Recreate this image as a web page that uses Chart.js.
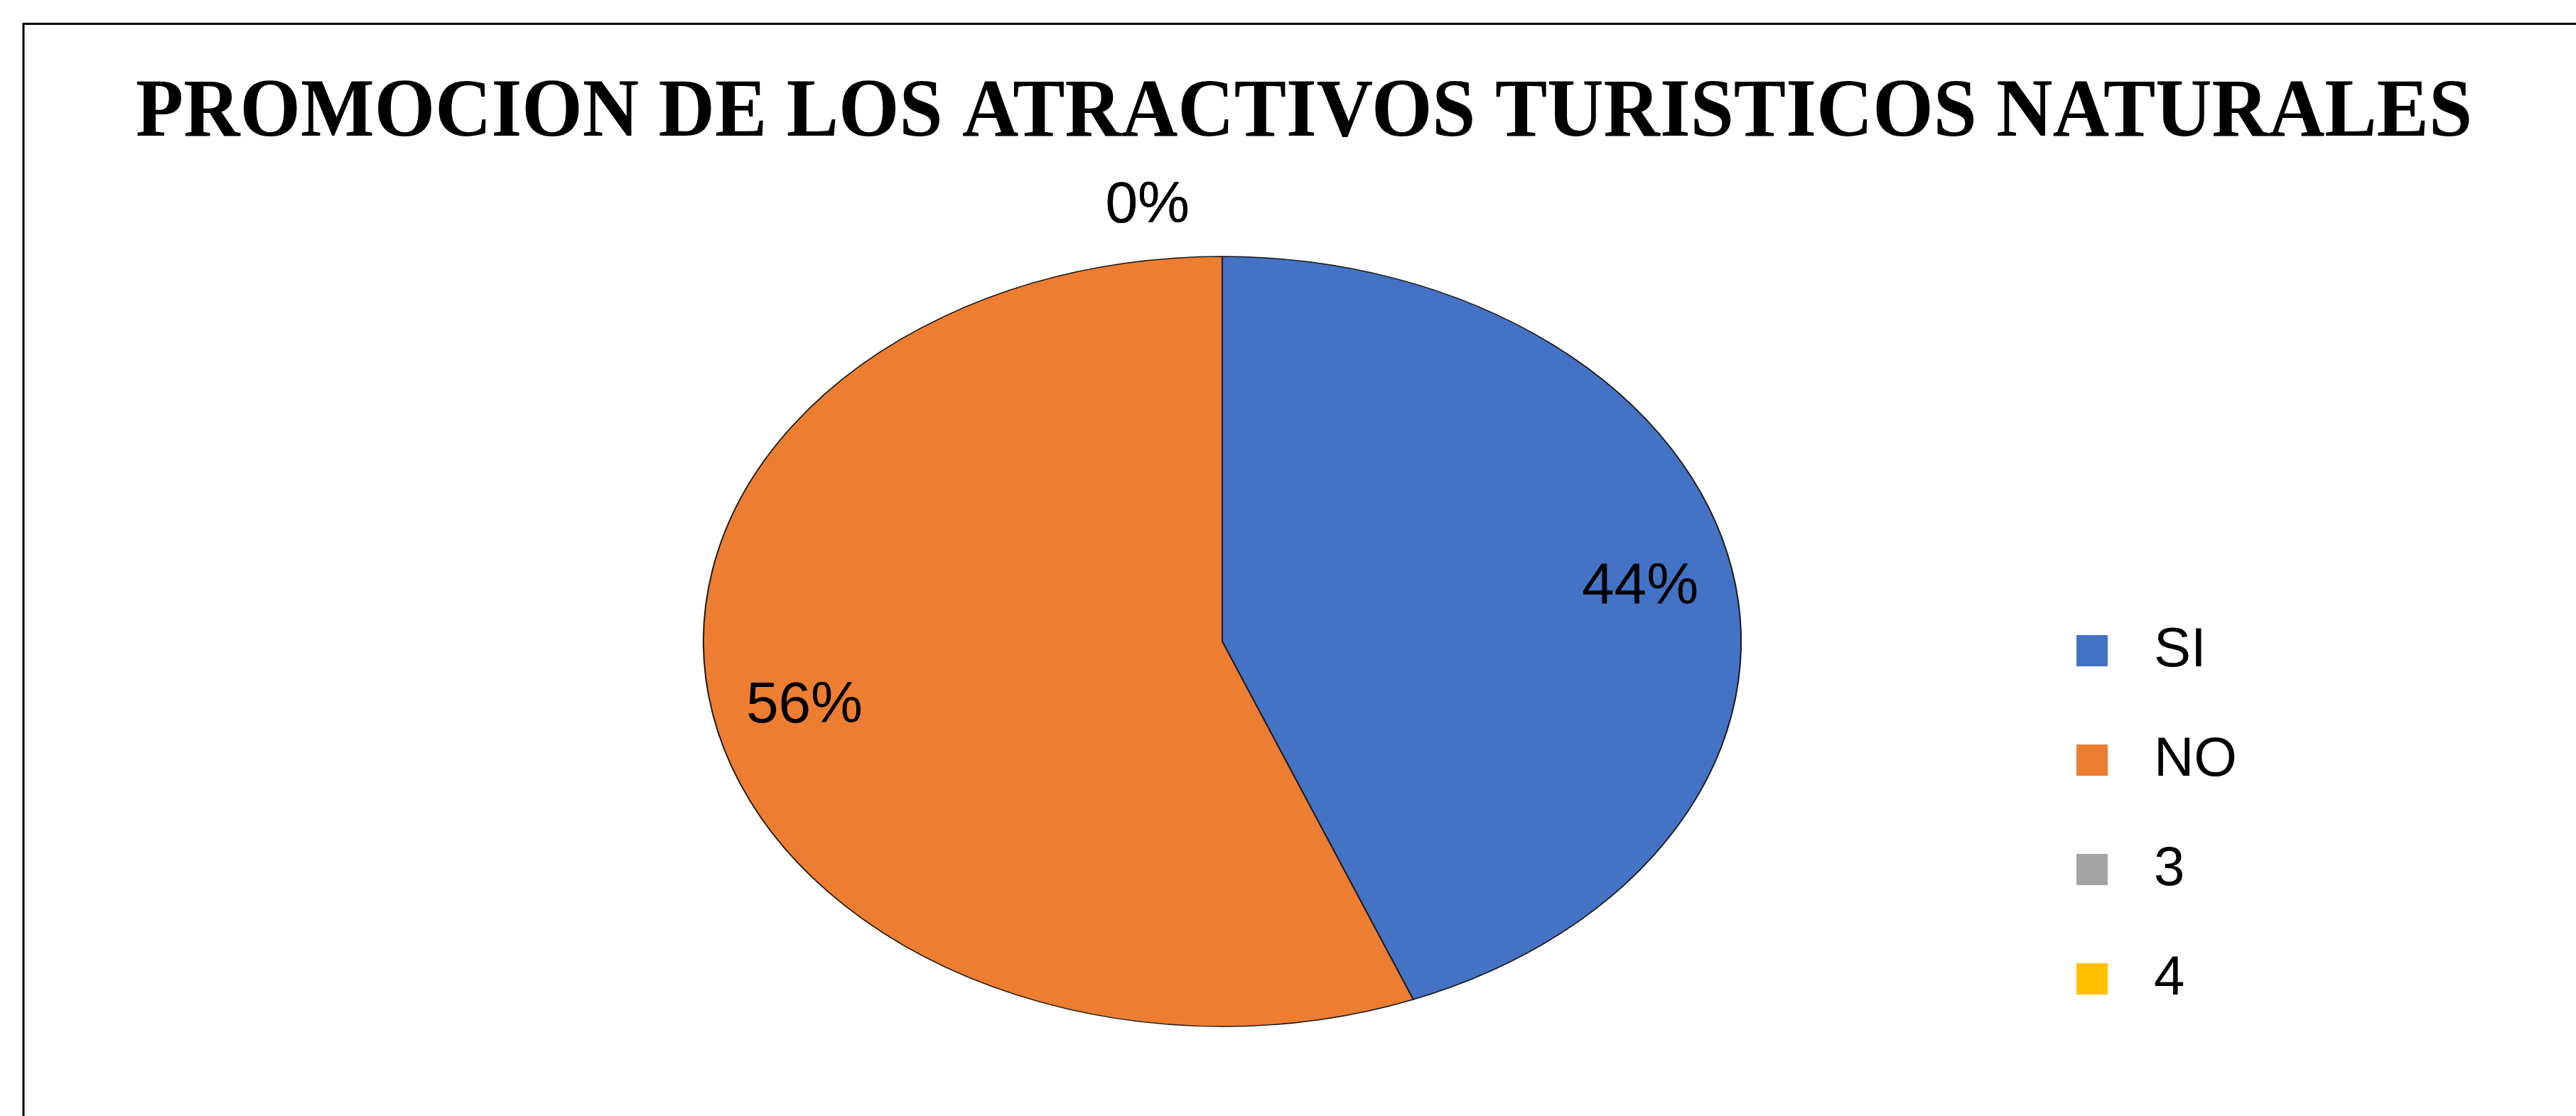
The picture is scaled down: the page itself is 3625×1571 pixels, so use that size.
<!DOCTYPE html>
<html>
<head>
<meta charset="utf-8">
<script src="https://cdn.jsdelivr.net/npm/chart.js@4.4.1/dist/chart.umd.min.js"></script>
<style>
  html, body { margin: 0; padding: 0; background: #fff; }
  canvas { display: block; }
</style>
</head>
<body>
<canvas id="myChart" width="3625" height="1571"></canvas>
<script>
// datos del grafico
var chartTitle = 'PROMOCION DE LOS ATRACTIVOS TURISTICOS NATURALES';
var labels = ['SI', 'NO', '3', '4'];
var values = [44, 56, 0, 0];
var colors = ['#4472C4', '#ED7D31', '#A5A5A5', '#FFC000'];

// la torta de Excel sale estirada en horizontal (elipse)
var stretchX = 1.347;

// cuadradito de color para la leyenda
function swatch(color) {
    var c = document.createElement('canvas');
    c.width = 44;
    c.height = 44;
    var g = c.getContext('2d');
    g.fillStyle = color;
    g.fillRect(0, 0, 44, 44);
    return c;
}

// fondo, marco y titulo
var framePlugin = {
    id: 'frame',
    beforeDraw: function(chart) {
        var ctx = chart.ctx;
        ctx.save();
        ctx.fillStyle = '#fff';
        ctx.fillRect(0, 0, chart.width, chart.height);
        ctx.strokeStyle = '#000';
        ctx.lineWidth = 3;
        ctx.beginPath();
        ctx.moveTo(chart.width, 33.5);
        ctx.lineTo(33, 33.5);
        ctx.lineTo(33, chart.height);
        ctx.stroke();
        ctx.restore();
    },
    afterDraw: function(chart) {
        var ctx = chart.ctx;
        ctx.save();
        ctx.font = 'bold 117px "Liberation Serif"';
        ctx.fillStyle = '#000';
        ctx.textAlign = 'center';
        ctx.textBaseline = 'alphabetic';
        ctx.fillText(chartTitle, 1835, 191, 3288);
        ctx.restore();
    }
};

// estira la torta y pone los porcentajes
var ellipsePlugin = {
    id: 'ellipse',
    beforeDatasetsDraw: function(chart) {
        var arc = chart.getDatasetMeta(0).data[0];
        var ctx = chart.ctx;
        ctx.save();
        ctx.translate(arc.x, arc.y);
        ctx.scale(stretchX, 1);
        ctx.translate(-arc.x, -arc.y);
    },
    afterDatasetsDraw: function(chart) {
        var ctx = chart.ctx;
        ctx.restore();
        var meta = chart.getDatasetMeta(0);
        var total = 0;
        for (var i = 0; i < values.length; i++) {
            total += values[i];
        }
        ctx.save();
        ctx.font = '82px "Liberation Sans"';
        ctx.fillStyle = '#000';
        ctx.textBaseline = 'middle';
        meta.data.forEach(function(arc, i) {
            var pct = Math.round(values[i] / total * 100) + '%';
            var mid = (arc.startAngle + arc.endAngle) / 2;
            var r = arc.outerRadius;
            if (values[i] > 0) {
                ctx.textAlign = 'center';
                ctx.fillText(pct, arc.x + Math.cos(mid) * r * 0.82 * stretchX, arc.y + Math.sin(mid) * r * 0.82 + 8);
            }
            else {
                // los ceros van afuera, arriba a la izquierda del corte
                var px = arc.x + Math.cos(mid) * r * stretchX;
                var py = arc.y + Math.sin(mid) * r;
                ctx.textAlign = 'right';
                ctx.fillText(pct, px - 46, py - 71);
            }
        });
        ctx.restore();
    }
};

var ctx = document.getElementById('myChart').getContext('2d');
var myPieChart = new Chart(ctx, {
    type: 'pie',
    data: {
        labels: labels,
        datasets: [{
            data: values,
            backgroundColor: colors,
            borderColor: '#1a1a1a',
            borderWidth: 1.5,
            radius: 542
        }]
    },
    options: {
        responsive: false,
        animation: false,
        layout: {
            padding: { left: 620, right: 467, top: 313, bottom: 78 }
        },
        plugins: {
            title: { display: false },
            tooltip: { enabled: false },
            legend: {
                position: 'right',
                align: 'end',
                labels: {
                    font: { family: 'Liberation Sans', size: 78 },
                    color: '#000',
                    padding: 76,
                    usePointStyle: true,
                    pointStyleWidth: 96,
                    generateLabels: function(chart) {
                        return labels.map(function(label, i) {
                            return {
                                text: label,
                                fillStyle: colors[i],
                                strokeStyle: colors[i],
                                lineWidth: 0,
                                fontColor: '#000',
                                pointStyle: swatch(colors[i]),
                                hidden: !chart.getDataVisibility(i),
                                index: i
                            };
                        });
                    }
                }
            }
        }
    },
    plugins: [framePlugin, ellipsePlugin]
});
</script>
</body>
</html>
